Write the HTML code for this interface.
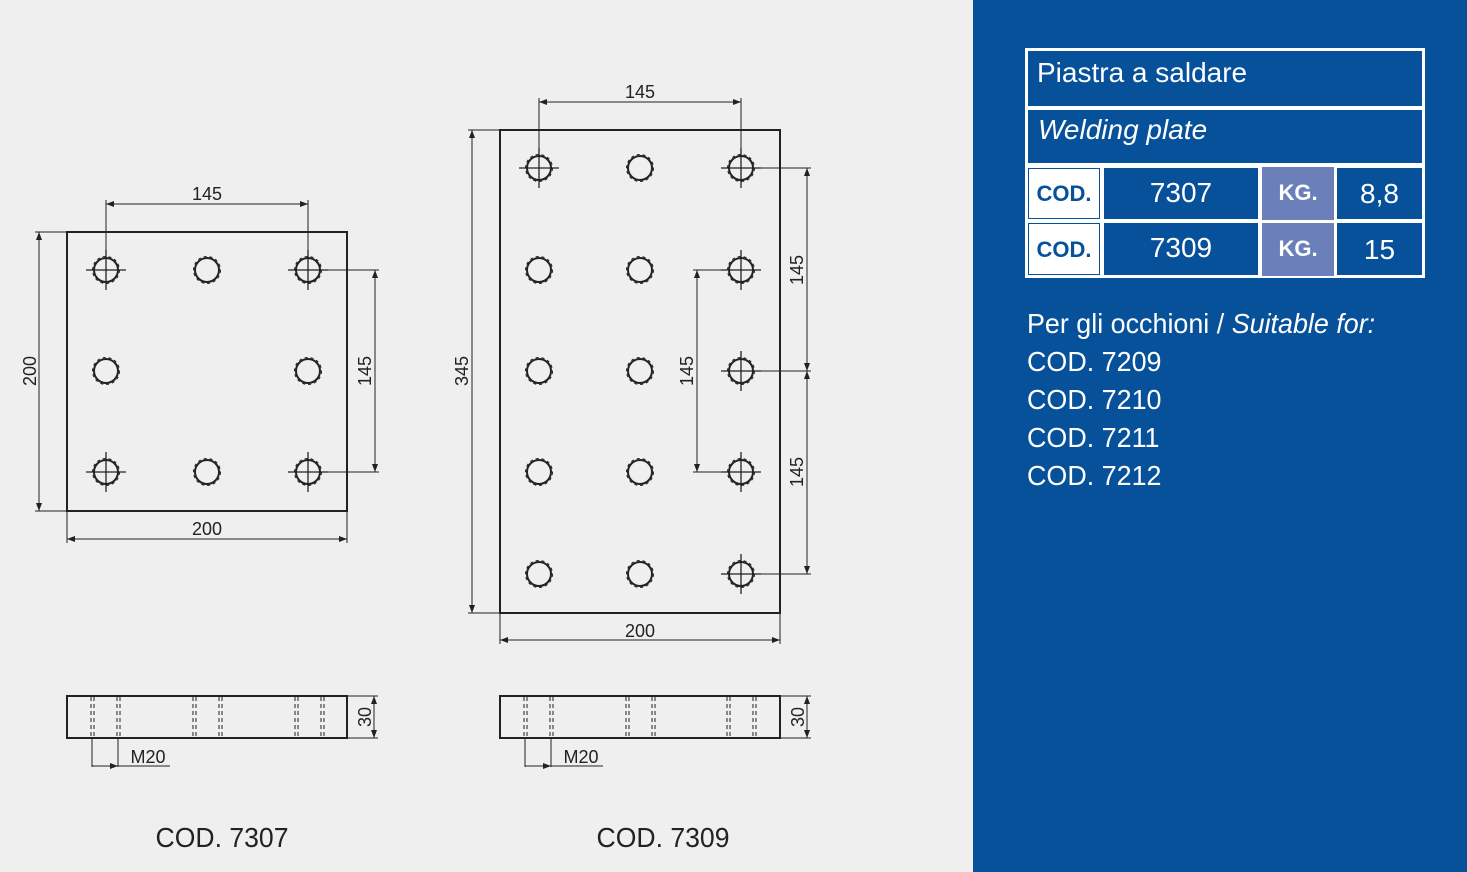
<!DOCTYPE html>
<html><head><meta charset="utf-8"><style>
body{margin:0;width:1467px;height:872px;overflow:hidden;font-family:"Liberation Sans",sans-serif;}
.l{position:absolute;left:0;top:0;width:973px;height:872px;background:#efefef;}
.r{position:absolute;left:973px;top:0;width:494px;height:872px;background:#07519b;}
.c{position:absolute;color:#fff;box-sizing:border-box;}
.t{position:absolute;left:1027px;color:#fff;font-size:28px;transform:scaleX(0.96);transform-origin:left;white-space:nowrap;}
</style></head><body>
<div class="l"></div><div class="r"></div>
<svg style="position:absolute;left:0;top:0" width="973" height="872" font-family="Liberation Sans,sans-serif">
<defs>
<marker id="a" markerWidth="8" markerHeight="6" refX="8" refY="3" orient="auto-start-reverse"><path d="M0,0L8,3L0,6z" fill="#222"/></marker>
<g id="h"><circle r="12" fill="none" stroke="#222" stroke-width="2"/><circle r="13.5" fill="none" stroke="#222" stroke-width="1" stroke-dasharray="3 3"/></g>
<g id="x"><line x1="-20" y1="0" x2="20" y2="0" stroke="#222" stroke-width="1.3"/><line x1="0" y1="-20" x2="0" y2="20" stroke="#222" stroke-width="1.3"/></g>
</defs>
<g stroke="#222" fill="none">
<rect x="67" y="232" width="280" height="279" stroke-width="2"/>
<g stroke-width="1">
<line x1="106" y1="250" x2="106" y2="200"/><line x1="308" y1="250" x2="308" y2="200"/>
<line x1="106" y1="204" x2="308" y2="204" marker-start="url(#a)" marker-end="url(#a)"/>
<line x1="67" y1="232" x2="35" y2="232"/><line x1="67" y1="511" x2="35" y2="511"/>
<line x1="39" y1="232" x2="39" y2="511" marker-start="url(#a)" marker-end="url(#a)"/>
<line x1="320" y1="270" x2="379" y2="270"/><line x1="320" y1="472" x2="379" y2="472"/>
<line x1="375" y1="270" x2="375" y2="472" marker-start="url(#a)" marker-end="url(#a)"/>
<line x1="67" y1="511" x2="67" y2="543"/><line x1="347" y1="511" x2="347" y2="543"/>
<line x1="67" y1="539" x2="347" y2="539" marker-start="url(#a)" marker-end="url(#a)"/>
</g>
<rect x="500" y="130" width="280" height="483" stroke-width="2"/>
<g stroke-width="1">
<line x1="539" y1="150" x2="539" y2="98"/><line x1="741" y1="150" x2="741" y2="98"/>
<line x1="539" y1="102" x2="741" y2="102" marker-start="url(#a)" marker-end="url(#a)"/>
<line x1="500" y1="130" x2="468" y2="130"/><line x1="500" y1="613" x2="468" y2="613"/>
<line x1="472" y1="130" x2="472" y2="613" marker-start="url(#a)" marker-end="url(#a)"/>
<line x1="755" y1="168" x2="811" y2="168"/><line x1="755" y1="371" x2="811" y2="371"/><line x1="755" y1="574" x2="811" y2="574"/>
<line x1="807" y1="168" x2="807" y2="371" marker-start="url(#a)" marker-end="url(#a)"/>
<line x1="807" y1="371" x2="807" y2="574" marker-start="url(#a)" marker-end="url(#a)"/>
<line x1="693" y1="270" x2="728" y2="270"/><line x1="693" y1="472" x2="728" y2="472"/>
<line x1="697" y1="270" x2="697" y2="472" marker-start="url(#a)" marker-end="url(#a)"/>
<line x1="500" y1="613" x2="500" y2="644"/><line x1="780" y1="613" x2="780" y2="644"/>
<line x1="500" y1="640" x2="780" y2="640" marker-start="url(#a)" marker-end="url(#a)"/>
</g>
<rect x="67" y="696" width="280" height="42" stroke-width="2"/>
<rect x="500" y="696" width="280" height="42" stroke-width="2"/>
<g stroke-width="1" stroke-dasharray="4 3">
<path d="M91 697V737M94 697V737M117 697V737M120 697V737M193 697V737M196 697V737M219 697V737M222 697V737M295 697V737M298 697V737M321 697V737M324 697V737"/>
<path d="M524 697V737M527 697V737M550 697V737M553 697V737M626 697V737M629 697V737M652 697V737M655 697V737M727 697V737M730 697V737M753 697V737M756 697V737"/>
</g>
<g stroke-width="1">
<line x1="347" y1="696" x2="378" y2="696"/><line x1="347" y1="738" x2="378" y2="738"/>
<line x1="374" y1="696" x2="374" y2="738" marker-start="url(#a)" marker-end="url(#a)"/>
<line x1="780" y1="696" x2="811" y2="696"/><line x1="780" y1="738" x2="811" y2="738"/>
<line x1="807" y1="696" x2="807" y2="738" marker-start="url(#a)" marker-end="url(#a)"/>
<path d="M92 738V767M118 738V767M118 766H170"/><line x1="92" y1="766" x2="118" y2="766" marker-end="url(#a)"/>
<path d="M525 738V767M551 738V767M551 766H603"/><line x1="525" y1="766" x2="551" y2="766" marker-end="url(#a)"/>
</g>
</g>
<use href="#h" x="106" y="270"/><use href="#h" x="207" y="270"/><use href="#h" x="308" y="270"/>
<use href="#h" x="106" y="371"/><use href="#h" x="308" y="371"/>
<use href="#h" x="106" y="472"/><use href="#h" x="207" y="472"/><use href="#h" x="308" y="472"/>
<use href="#x" x="106" y="270"/><use href="#x" x="308" y="270"/><use href="#x" x="106" y="472"/><use href="#x" x="308" y="472"/>
<g>
<use href="#h" x="539" y="168"/><use href="#h" x="640" y="168"/><use href="#h" x="741" y="168"/>
<use href="#h" x="539" y="270"/><use href="#h" x="640" y="270"/><use href="#h" x="741" y="270"/>
<use href="#h" x="539" y="371"/><use href="#h" x="640" y="371"/><use href="#h" x="741" y="371"/>
<use href="#h" x="539" y="472"/><use href="#h" x="640" y="472"/><use href="#h" x="741" y="472"/>
<use href="#h" x="539" y="574"/><use href="#h" x="640" y="574"/><use href="#h" x="741" y="574"/>
<use href="#x" x="539" y="168"/><use href="#x" x="741" y="168"/><use href="#x" x="741" y="270"/><use href="#x" x="741" y="371"/><use href="#x" x="741" y="472"/><use href="#x" x="741" y="574"/>
</g>
<g fill="#222" font-size="18" text-anchor="middle">
<text x="207" y="200">145</text><text x="207" y="535">200</text>
<text transform="translate(36,371) rotate(-90)">200</text>
<text transform="translate(371,371) rotate(-90)">145</text>
<text x="640" y="98">145</text><text x="640" y="637">200</text>
<text transform="translate(468,371) rotate(-90)">345</text>
<text transform="translate(693,371) rotate(-90)">145</text>
<text transform="translate(803,270) rotate(-90)">145</text>
<text transform="translate(803,472) rotate(-90)">145</text>
<text transform="translate(371,717) rotate(-90)">30</text>
<text transform="translate(804,717) rotate(-90)">30</text>
<text x="148" y="763">M20</text><text x="581" y="763">M20</text>
<text transform="translate(222,847) scale(0.95,1)" font-size="28">COD. 7307</text>
<text transform="translate(663,847) scale(0.95,1)" font-size="28">COD. 7309</text>
</g>
</svg>
<div class="c" style="left:1025px;top:48px;width:400px;height:230px;background:#fff"></div>
<div class="c" style="left:1028px;top:51px;width:394px;height:55px;background:#07519b;font-size:28px;padding:6px 0 0 9px">Piastra a saldare</div>
<div class="c" style="left:1028px;top:110px;width:394px;height:53px;background:#07519b;font-size:28px;font-style:italic;padding:4px 0 0 10px">Welding plate</div>
<div class="c" style="left:1028px;top:168px;width:72px;height:51px;border:1px solid #07519b;color:#07519b;font-weight:bold;font-size:22px;text-align:center;line-height:50px">COD.</div>
<div class="c" style="left:1104px;top:168px;width:154px;height:51px;background:#07519b;font-size:28px;text-align:center;line-height:50px">7307</div>
<div class="c" style="left:1262px;top:167px;width:72px;height:53px;background:#6b80bb;font-weight:bold;font-size:22px;text-align:center;line-height:52px">KG.</div>
<div class="c" style="left:1337px;top:168px;width:85px;height:51px;background:#07519b;font-size:28px;text-align:center;line-height:52px">8,8</div>
<div class="c" style="left:1028px;top:223px;width:72px;height:52px;border:1px solid #07519b;color:#07519b;font-weight:bold;font-size:22px;text-align:center;line-height:51px">COD.</div>
<div class="c" style="left:1104px;top:223px;width:154px;height:52px;background:#07519b;font-size:28px;text-align:center;line-height:50px">7309</div>
<div class="c" style="left:1262px;top:223px;width:72px;height:53px;background:#6b80bb;font-weight:bold;font-size:22px;text-align:center;line-height:52px">KG.</div>
<div class="c" style="left:1337px;top:223px;width:85px;height:52px;background:#07519b;font-size:28px;text-align:center;line-height:54px">15</div>
<div class="t" style="top:308px">Per gli occhioni / <i>Suitable for:</i></div>
<div class="t" style="top:346px">COD. 7209</div>
<div class="t" style="top:384px">COD. 7210</div>
<div class="t" style="top:422px">COD. 7211</div>
<div class="t" style="top:460px">COD. 7212</div>
</body></html>
